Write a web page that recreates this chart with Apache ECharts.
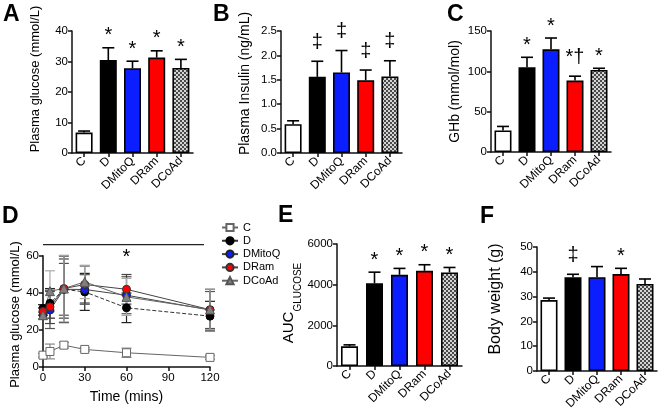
<!DOCTYPE html>
<html><head><meta charset="utf-8">
<script src="https://cdn.jsdelivr.net/npm/echarts@6/dist/echarts.min.js"></script>
<style>html,body{margin:0;padding:0;background:#fff}#c{width:660px;height:416px}</style>
</head><body><div id="c"></div>
<script>
// ---- data ----
const cats = ['C', 'D', 'DMitoQ', 'DRam', 'DCoAd'];
const glucose = [6.7, 30.5, 27.8, 31.3, 27.9];
const glucoseErr = [0.5, 4.0, 2.3, 2.2, 2.8];
const glucoseSig = ['', '*', '*', '*', '*'];
const insulin = [0.59, 1.56, 1.65, 1.49, 1.57];
const insulinErr = [0.07, 0.32, 0.45, 0.21, 0.32];
const insulinSig = ['', '‡', '‡', '‡', '‡'];
const ghb = [26.8, 105, 127.3, 88.6, 101.8];
const ghbErr = [4.9, 12.4, 14, 5.4, 2];
const ghbSig = ['', '*', '*', '*†', '*'];
const auc = [970, 4070, 4485, 4680, 4600];
const aucErr = [70, 545, 315, 300, 246];
const aucSig = ['', '*', '*', '*', '*'];
const bw = [28.6, 37.8, 37.8, 39.1, 35.1];
const bwErr = [0.8, 1.2, 4.3, 2.3, 2.0];
const bwSig = ['', '‡', '', '*', ''];

const times = [0, 5, 15, 30, 60, 120];
const gttC = [6.4, 8.4, 11.8, 9.5, 7.7, 5.2];
const gttCErr = [1, 4, 1.5, 1, 2.5, 1];
const gttD = [31.7, 34.4, 42.0, 40.6, 32.0, 27.5];
const gttDErr = [2, 8, 18, 10, 8, 8];
const gttDMitoQ = [28.0, 30.8, 42.0, 41.9, 38.8, 30.8];
const gttDMitoQErr = [2, 10, 14, 8, 10, 10];
const gttDRam = [30.0, 32.5, 42.4, 44.6, 42.0, 31.0];
const gttDRamErr = [2, 9, 16, 10, 8, 11];
const gttDCoAd = [28.0, 41.0, 42.4, 46.0, 37.9, 31.1];
const gttDCoAdErr = [2, 11, 18, 9, 10, 11];
const gttSigLine = [[0, 66.1, 115.7]];
const gttSigStar = [[60, 59.2]];

// ---- styling ----
const FONT = '"Liberation Sans", Arial, sans-serif';
function checker() {
  const c = document.createElement('canvas'); c.width = c.height = 4;
  const g = c.getContext('2d');
  g.fillStyle = '#d4d4d4'; g.fillRect(0, 0, 4, 4);
  g.fillStyle = '#4a4a4a'; g.fillRect(0, 0, 2, 2); g.fillRect(2, 2, 2, 2);
  return c;
}
const barColors = ['#ffffff', '#000000', '#0a1eff', '#ff0000', { image: checker(), repeat: 'repeat' }];

const barPanels = [
  { grid: { left: 72, top: 31, width: 121, height: 122 }, vals: glucose, errs: glucoseErr, sig: glucoseSig, max: 40, interval: 10,
    name: 'Plasma glucose (mmol/L)', nameSize: 13, nameGap: 30, namePad: [0, 0, 0, 26] },
  { grid: { left: 281, top: 31, width: 121, height: 122 }, vals: insulin, errs: insulinErr, sig: insulinSig, max: 2.5, interval: 0.5,
    name: 'Plasma Insulin (ng/mL)', nameSize: 14, nameGap: 29, namePad: [0, 0, 0, 17], fmt: v => v.toFixed(1) },
  { grid: { left: 491, top: 31, width: 120, height: 121 }, vals: ghb, errs: ghbErr, sig: ghbSig, max: 150, interval: 50,
    name: 'GHb (mmol/mol)', nameSize: 14, nameGap: 29, namePad: [0, 0, 0, 0] },
  { grid: { left: 337, top: 244, width: 125, height: 122 }, vals: auc, errs: aucErr, sig: aucSig, max: 6000, interval: 2000,
    name: '{a|AUC}{b|GLUCOSE}', nameSize: 15, nameGap: 28, namePad: [0, 0, 0, 4], rich: true, fmt: v => String(v) },
  { grid: { left: 537, top: 247, width: 120, height: 124 }, vals: bw, errs: bwErr, sig: bwSig, max: 50, interval: 10,
    name: 'Body weight (g)', nameSize: 16, nameGap: 33, namePad: [0, 0, 0, 20] },
];

const grids = [], xAxes = [], yAxes = [], series = [];
const axisLine = { show: true, lineStyle: { color: '#111', width: 1.5 } };
const axisTick = { show: true, length: 4, lineStyle: { color: '#111', width: 1.5 } };

barPanels.forEach((p, gi) => {
  grids.push(Object.assign({ containLabel: false }, p.grid));
  xAxes.push({ gridIndex: gi, type: 'category', data: cats, boundaryGap: true,
    axisLine, axisTick: Object.assign({ alignWithLabel: true }, axisTick),
    axisLabel: { rotate: 45, interval: 0, fontSize: 12, margin: 6, color: '#000', fontFamily: FONT } });
  const ya = { gridIndex: gi, type: 'value', min: 0, max: p.max, interval: p.interval,
    axisLine, axisTick, splitLine: { show: false },
    axisLabel: { fontSize: 11.5, color: '#000', fontFamily: FONT, margin: 4, formatter: p.fmt },
    name: p.name, nameLocation: 'middle', nameGap: p.nameGap, nameRotate: 90,
    nameTextStyle: { fontSize: p.nameSize, color: '#000', fontFamily: FONT, padding: p.namePad } };
  if (p.rich) {
    ya.nameTextStyle.rich = {
      a: { fontSize: 15, fontFamily: FONT, color: '#000', lineHeight: 22, verticalAlign: 'top' },
      b: { fontSize: 10, fontFamily: FONT, color: '#000', lineHeight: 22, verticalAlign: 'bottom', padding: [9, 0, 0, 0] }
    };
  }
  yAxes.push(ya);
  series.push({ type: 'bar', xAxisIndex: gi, yAxisIndex: gi, barWidth: 17, z: 2, silent: true,
    data: p.vals.map((v, i) => ({ value: v, itemStyle: { color: barColors[i], borderColor: '#000', borderWidth: 1.6 } })) });
  series.push({ type: 'custom', xAxisIndex: gi, yAxisIndex: gi, z: 3, silent: true, clip: false,
    data: p.vals.map((v, i) => [i, v, p.errs[i]]),
    renderItem: (params, api) => {
      const x = api.value(0), v = api.value(1), e = api.value(2);
      const a = api.coord([x, v]), b = api.coord([x, v + e]);
      const st = { stroke: '#000', lineWidth: 1.6 };
      return { type: 'group', children: [
        { type: 'line', shape: { x1: a[0], y1: a[1], x2: b[0], y2: b[1] }, style: st },
        { type: 'line', shape: { x1: b[0] - 6, y1: b[1], x2: b[0] + 6, y2: b[1] }, style: st } ] };
    } });
  series.push({ type: 'custom', xAxisIndex: gi, yAxisIndex: gi, z: 4, silent: true, clip: false,
    data: p.vals.map((v, i) => [i, v + p.errs[i]]),
    renderItem: (params, api) => {
      const b = api.coord([api.value(0), api.value(1)]);
      const s = p.sig[params.dataIndex];
      const lift = /[†‡]/.test(s) ? 9 : 2;
      return { type: 'text', x: b[0], y: b[1] - lift,
        style: { text: s, fontSize: 20, fontFamily: FONT, fill: '#000',
          textAlign: 'center', align: 'center', textVerticalAlign: 'bottom', verticalAlign: 'bottom' } };
    } });
});

// ---- line panel D ----
const gi = grids.length;
grids.push({ left: 43, top: 256, width: 167, height: 111, containLabel: false });
xAxes.push({ gridIndex: gi, type: 'value', min: 0, max: 120, interval: 30, axisLine, axisTick, splitLine: { show: false },
  axisLabel: { fontSize: 11.5, color: '#000', fontFamily: FONT, margin: 5 },
  name: 'Time (mins)', nameLocation: 'middle', nameGap: 23,
  nameTextStyle: { fontSize: 14, color: '#000', fontFamily: FONT } });
yAxes.push({ gridIndex: gi, type: 'value', min: 0, max: 60, interval: 20,
  axisLine: { show: true, lineStyle: { color: '#333', width: 1.8 } }, axisTick, splitLine: { show: false },
  axisLabel: { fontSize: 11.5, color: '#000', fontFamily: FONT, margin: 4 },
  name: 'Plasma glucose (mmol/L)', nameLocation: 'middle', nameGap: 21, nameRotate: 90,
  nameTextStyle: { fontSize: 13, color: '#000', fontFamily: FONT, padding: [0, 6, 0, 0] } });

const lineDefs = [
  { name: 'C', data: gttC, err: gttCErr, symbol: 'rect', size: 8, color: '#ffffff', border: '#666', line: '#666', type: 'solid', errColor: '#888' },
  { name: 'D', data: gttD, err: gttDErr, symbol: 'circle', size: 8, color: '#000000', border: '#000', line: '#333', type: 'dashed', errColor: '#222' },
  { name: 'DMitoQ', data: gttDMitoQ, err: gttDMitoQErr, symbol: 'circle', size: 8, color: '#0a1eff', border: '#222', line: '#444', type: 'solid', errColor: '#555' },
  { name: 'DRam', data: gttDRam, err: gttDRamErr, symbol: 'circle', size: 8, color: '#ff0000', border: '#333', line: '#444', type: 'solid', errColor: '#444' },
  { name: 'DCoAd', data: gttDCoAd, err: gttDCoAdErr, symbol: 'triangle', size: 9, color: '#808080', border: '#555', line: '#666', type: 'solid', errColor: '#aaa' },
];
lineDefs.forEach(d => {
  series.push({ type: 'custom', xAxisIndex: gi, yAxisIndex: gi, z: 2, silent: true,
    data: times.map((t, i) => [t, d.data[i], d.err[i]]),
    renderItem: (params, api) => {
      const t = api.value(0), v = api.value(1), e = api.value(2);
      const a = api.coord([t, v - e]), b = api.coord([t, v + e]);
      const st = { stroke: d.errColor, lineWidth: 1.2 };
      return { type: 'group', children: [
        { type: 'line', shape: { x1: a[0], y1: a[1], x2: b[0], y2: b[1] }, style: st },
        { type: 'line', shape: { x1: a[0] - 5, y1: a[1], x2: a[0] + 5, y2: a[1] }, style: st },
        { type: 'line', shape: { x1: b[0] - 5, y1: b[1], x2: b[0] + 5, y2: b[1] }, style: st } ] };
    } });
});
lineDefs.forEach(d => {
  series.push({ type: 'line', name: d.name, xAxisIndex: gi, yAxisIndex: gi, z: 5, silent: true,
    data: times.map((t, i) => [t, d.data[i]]),
    symbol: d.symbol, symbolSize: d.size, showAllSymbol: true,
    itemStyle: { color: d.color, borderColor: d.border, borderWidth: 1 },
    lineStyle: { color: d.line, width: 1, type: d.type } });
});
// significance bar over the time course
series.push({ type: 'custom', xAxisIndex: gi, yAxisIndex: gi, z: 6, silent: true, clip: false,
  data: gttSigLine,
  renderItem: (params, api) => {
    const a = api.coord([api.value(0), api.value(1)]), b = api.coord([api.value(2), api.value(1)]);
    return { type: 'line', shape: { x1: a[0], y1: a[1], x2: b[0], y2: b[1] }, style: { stroke: '#222', lineWidth: 1.3 } };
  } });
series.push({ type: 'custom', xAxisIndex: gi, yAxisIndex: gi, z: 6, silent: true, clip: false,
  data: gttSigStar,
  renderItem: (params, api) => {
    const a = api.coord([api.value(0), api.value(1)]);
    return { type: 'text', x: a[0], y: a[1],
      style: { text: '*', fontSize: 20, fontFamily: FONT, fill: '#000', textAlign: 'center', align: 'center',
        textVerticalAlign: 'middle', verticalAlign: 'middle' } };
  } });

const letters = [['A', 3, 3], ['B', 213, 3], ['C', 447, 3], ['D', 2, 205], ['E', 278, 204], ['F', 480, 205]];

const chart = echarts.init(document.getElementById('c'), null, { renderer: 'canvas' });
chart.setOption({
  animation: false,
  backgroundColor: '#fff',
  grid: grids, xAxis: xAxes, yAxis: yAxes, series,
  legend: { orient: 'vertical', left: 216, top: 217, itemWidth: 16, itemHeight: 9, itemGap: 2.3,
    data: lineDefs.map(d => d.name), selectedMode: false,
    textStyle: { fontSize: 11, color: '#000', fontFamily: FONT } },
  graphic: letters.map(l => ({ type: 'text', left: l[1], top: l[2],
    style: { text: l[0], fontSize: 23, fontWeight: 'bold', fontFamily: FONT, fill: '#000' } }))
});
</script></body></html>
